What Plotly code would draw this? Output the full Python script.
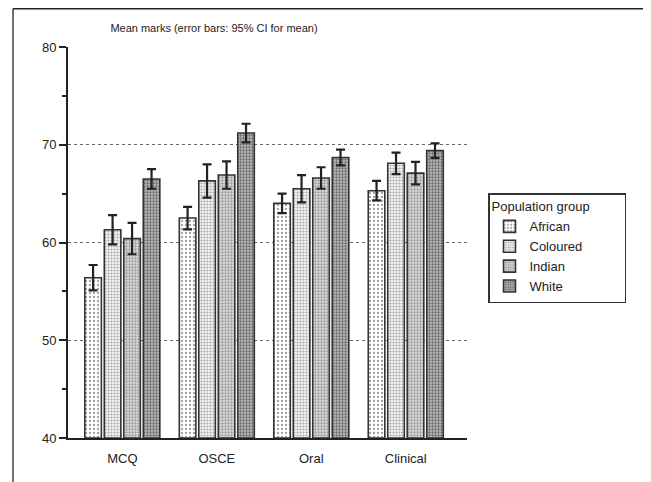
import plotly.graph_objects as go

categories = ["MCQ", "OSCE", "Oral", "Clinical"]
groups = ["African", "Coloured", "Indian", "White"]
means = {
    "African":  [56.4, 62.5, 64.0, 65.3],
    "Coloured": [61.3, 66.3, 65.5, 68.1],
    "Indian":   [60.4, 66.9, 66.6, 67.1],
    "White":    [66.5, 71.2, 68.7, 69.4],
}
ci_half = {
    "African":  [1.3, 1.15, 1.0, 1.0],
    "Coloured": [1.5, 1.7, 1.4, 1.1],
    "Indian":   [1.6, 1.4, 1.1, 1.15],
    "White":    [1.0, 0.95, 0.8, 0.75],
}
y_ticks = [40, 50, 60, 70, 80]
grid_vals = [50, 60, 70]

styles = {
    "African":  dict(bg="#ffffff", fg="#a0a0a0", size=4, sol=0.25),
    "Coloured": dict(bg="#f4f4f4", fg="#a8a8a8", size=3, sol=0.4),
    "Indian":   dict(bg="#dedede", fg="#9a9a9a", size=3, sol=0.45),
    "White":    dict(bg="#bababa", fg="#6a6a6a", size=3, sol=0.45),
}

# page offset: the browser puts the figure 8px from the top-left corner
W, H = 643, 474
L, T = 60, 39
R = W - (467 - 8)
B = H - (438 - 8)
PW, PH = 467 - 68, 438 - 47

x_idx = list(range(len(categories)))
fig = go.Figure()
for g in groups:
    s = styles[g]
    fig.add_trace(go.Bar(
        name=g, x=x_idx, y=[m - 40 for m in means[g]], base=40,
        marker=dict(color=s["bg"],
                    line=dict(color="#333333", width=1.6),
                    pattern=dict(shape=".", bgcolor=s["bg"], fgcolor=s["fg"],
                                 size=s["size"], solidity=s["sol"], fillmode="replace")),
        error_y=dict(type="data", array=ci_half[g], color="#222222",
                     thickness=2.2, width=4.5),
        hoverinfo="skip",
    ))

fig.update_layout(
    width=W, height=H,
    margin=dict(l=L, r=R, t=T, b=B, pad=0),
    paper_bgcolor="white", plot_bgcolor="white",
    barmode="group", bargap=0.175, bargroupgap=0.15,
    font=dict(family="Liberation Sans, Arial, sans-serif", size=12, color="#222222"),
    title=dict(text="Mean marks (error bars: 95% CI for mean)",
               x=(214 - 68) / PW, xanchor="center", xref="paper",
               y=1 - 20 / H, yanchor="middle", yref="container",
               font=dict(size=11, color="#222222")),
    xaxis=dict(range=[-0.575, 3.648], tickvals=x_idx, ticktext=categories,
               showgrid=False, zeroline=False, showline=True, linecolor="#222222",
               linewidth=2, ticks="outside", ticklen=7, tickcolor="rgba(0,0,0,0)",
               tickfont=dict(size=13, color="#222222")),
    yaxis=dict(range=[40, 80], tickvals=y_ticks, showgrid=False, zeroline=False,
               showline=True, linecolor="#222222", linewidth=2,
               ticks="outside", ticklen=7, tickwidth=2, tickcolor="#222222",
               minor=dict(dtick=5, tick0=40, ticks="outside", ticklen=4,
                          tickwidth=2, tickcolor="#222222", showgrid=False),
               tickfont=dict(size=13, color="#222222")),
    yaxis2=dict(overlaying="y", matches="y", range=[40, 80], tickvals=grid_vals,
                showticklabels=False, showgrid=True, gridcolor="#666666",
                griddash="dot", gridwidth=1, showline=False, zeroline=False,
                ticks="", layer="below traces"),
    legend=dict(title=dict(text="Population group" + "&nbsp;" * 9, font=dict(size=13)),
                x=(488 - 68) / PW, xanchor="left", y=1 - (193 - 47) / PH, yanchor="top",
                bordercolor="#333333", borderwidth=1.5, bgcolor="white",
                font=dict(size=13), tracegroupgap=0, itemwidth=30),
    showlegend=True,
)
# dummy trace to attach the yaxis2 grid
fig.add_trace(go.Scatter(x=[None], y=[None], yaxis="y2", showlegend=False, hoverinfo="skip"))

# outer frame (top and left edges)
top_y = 1 + (47 - 8.5) / PH
left_x = (13 - 68) / PW
fig.add_shape(type="line", xref="paper", yref="paper",
              x0=left_x, x1=(660 - 68) / PW, y0=top_y, y1=top_y,
              line=dict(color="#222222", width=2))
fig.add_shape(type="line", xref="paper", yref="paper",
              x0=left_x, x1=left_x, y0=top_y, y1=-0.2,
              line=dict(color="#444444", width=1.5))

fig.write_html("out.html")
